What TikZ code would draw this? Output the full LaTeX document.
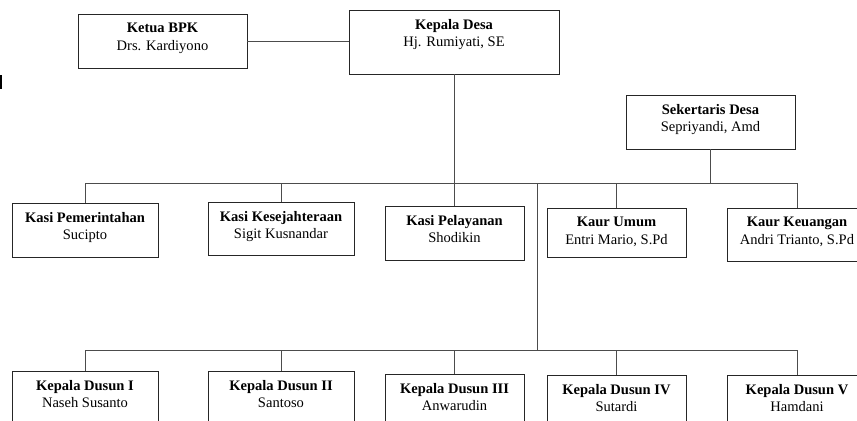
\documentclass[tikz,border=0pt]{standalone}
\usepackage{fontspec}
\setmainfont{Liberation Serif}
\begin{document}
\begin{tikzpicture}[x=0.03cm,y=-0.03cm,
    kotak/.style 2 args={draw=black!85,line width=0.6pt,inner sep=0pt,outer sep=0pt,minimum width=#1*0.03cm,minimum height=#2*0.03cm},
    isi/.style={anchor=north,align=center,inner sep=0pt,yshift=-7.5pt,font=\fontsize{12.4}{15}\selectfont},
    garis/.style={draw=black!70,line width=0.6pt}]
    \useasboundingbox (0,0) rectangle (857,421);
    \clip (0,0) rectangle (857,421);
    \node[kotak={169}{54},label={[isi]north:{\textbf{Ketua BPK}\\Drs. Kardiyono}}] (bpk) at (162.5,41) {};
    \node[kotak={210}{64},label={[isi]north:{\textbf{Kepala Desa}\\Hj. Rumiyati, SE}}] (desa) at (454,42) {};
    \node[kotak={169}{54},label={[isi]north:{\textbf{Sekertaris Desa}\\Sepriyandi, Amd}}] (sekdes) at (710.5,122) {};
    \node[kotak={146}{54},label={[isi]north:{\textbf{Kasi Pemerintahan}\\Sucipto}}] (pem) at (85,230) {};
    \node[kotak={146}{53},label={[isi]north:{\textbf{Kasi Kesejahteraan}\\Sigit Kusnandar}}] (kes) at (281,228.5) {};
    \node[kotak={139}{54},label={[isi]north:{\textbf{Kasi Pelayanan}\\Shodikin}}] (pel) at (454.5,233) {};
    \node[kotak={139}{49},label={[isi]north:{\textbf{Kaur Umum}\\Entri Mario, S.Pd}}] (umum) at (616.5,232.5) {};
    \node[kotak={140}{53},label={[isi]north:{\textbf{Kaur Keuangan}\\Andri Trianto, S.Pd}}] (keu) at (797,234.5) {};
    \node[kotak={146}{54},label={[isi]north:{\textbf{Kepala Dusun I}\\Naseh Susanto}}] (dus1) at (85,398) {};
    \node[kotak={146}{54},label={[isi]north:{\textbf{Kepala Dusun II}\\Santoso}}] (dus2) at (281,398) {};
    \node[kotak={139}{54},label={[isi]north:{\textbf{Kepala Dusun III}\\Anwarudin}}] (dus3) at (454.5,401) {};
    \node[kotak={139}{54},label={[isi]north:{\textbf{Kepala Dusun IV}\\Sutardi}}] (dus4) at (616.5,402) {};
    \node[kotak={140}{54},label={[isi]north:{\textbf{Kepala Dusun V}\\Hamdani}}] (dus5) at (797,402) {};
    \coordinate (bus1) at (0,183);
    \coordinate (bus2) at (0,350);
    \coordinate (cabang) at (537,183);
    \coordinate (cabang2) at (537,350);
    \draw[garis] (bpk.east) -- (bpk.east -| desa.west);
    \draw[garis] (desa.south) -- (desa.south |- pel.north);
    \draw[garis] (sekdes.south) -- (sekdes.south |- bus1);
    \draw[garis] (pem.north |- bus1) -- (keu.north |- bus1);
    \foreach \n in {pem,kes,umum,keu}
        \draw[garis] (\n.north) -- (\n.north |- bus1);
    \draw[garis] (cabang) -- (cabang2);
    \draw[garis] (dus1.north |- bus2) -- (dus5.north |- bus2);
    \foreach \n in {dus1,dus2,dus3,dus4,dus5}
        \draw[garis] (\n.north) -- (\n.north |- bus2);
    \draw[line width=1.8pt] (1,75) -- (1,89);
\end{tikzpicture}
\end{document}
